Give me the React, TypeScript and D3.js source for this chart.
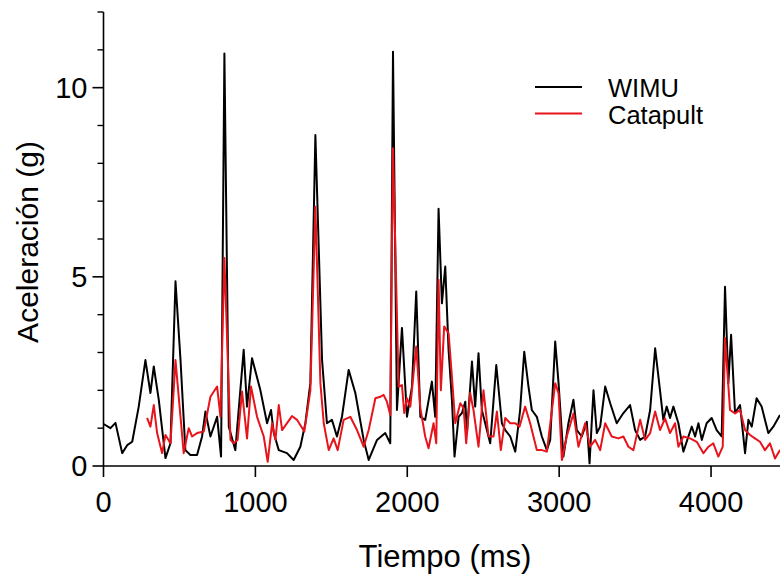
import React from "react";
import * as d3 from "d3";

const wimu: [number, number][] = [[0,1.11],[46,1.0],[79,1.14],[123,0.34],[156,0.55],[189,0.64],[232,1.57],[276,2.8],[309,1.93],[331,2.63],[364,1.75],[408,0.21],[441,0.6],[474,4.88],[507,2.8],[539,0.42],[572,0.29],[616,0.29],[649,0.78],[671,1.44],[704,0.78],[748,1.3],[774,0.25],[796,10.9],[825,1.04],[868,0.42],[923,3.07],[945,1.57],[978,2.85],[1033,2.0],[1077,1.13],[1103,1.48],[1121,0.87],[1154,0.42],[1208,0.34],[1252,0.16],[1296,0.51],[1329,1.13],[1362,2.19],[1395,8.75],[1439,2.8],[1471,1.13],[1504,1.22],[1537,0.78],[1570,1.3],[1614,2.54],[1658,1.93],[1713,0.69],[1746,0.16],[1801,0.69],[1855,0.87],[1888,0.6],[1906,10.95],[1932,1.48],[1965,3.65],[1998,1.3],[2031,2.1],[2059,4.61],[2086,1.3],[2118,1.22],[2162,2.23],[2184,1.3],[2206,6.8],[2228,4.3],[2250,5.27],[2272,3.07],[2294,1.75],[2311,0.25],[2338,1.3],[2360,1.4],[2382,1.7],[2393,0.87],[2426,2.76],[2447,1.57],[2469,2.98],[2491,1.48],[2513,1.13],[2546,0.6],[2586,2.67],[2623,1.13],[2645,0.95],[2678,0.78],[2711,0.38],[2743,1.48],[2770,3.02],[2798,2.1],[2820,1.48],[2853,1.3],[2886,0.78],[2919,0.42],[2941,0.69],[2974,3.29],[2996,2.19],[3028,0.25],[3061,1.13],[3094,1.75],[3116,0.95],[3149,0.78],[3182,1.17],[3200,0.07],[3226,2.0],[3248,0.87],[3270,1.04],[3303,2.1],[3336,1.66],[3379,1.13],[3423,1.4],[3467,1.61],[3500,0.95],[3533,0.69],[3566,0.78],[3599,1.48],[3632,3.11],[3664,2.0],[3686,1.22],[3708,1.57],[3730,1.27],[3752,1.57],[3785,1.13],[3818,0.38],[3851,0.78],[3873,1.04],[3895,0.78],[3917,1.13],[3939,0.69],[3971,1.13],[4004,1.27],[4037,0.95],[4070,0.78],[4092,4.74],[4114,2.19],[4132,3.47],[4158,1.4],[4191,1.61],[4224,0.34],[4246,1.22],[4268,1.04],[4300,1.79],[4333,1.57],[4377,0.87],[4410,1.04],[4454,1.35]];

const catapult: [number, number][] = [[287,1.27],[309,1.04],[331,1.61],[353,0.87],[386,0.34],[408,0.82],[441,0.6],[474,2.8],[507,1.3],[528,0.34],[561,1.0],[583,0.78],[616,0.87],[660,0.91],[704,1.83],[748,2.1],[770,1.3],[796,5.5],[836,0.69],[857,0.6],[883,0.69],[912,1.97],[945,0.73],[971,2.1],[1011,1.3],[1055,0.78],[1081,0.11],[1110,1.13],[1132,0.69],[1154,1.61],[1176,0.95],[1241,1.32],[1274,1.22],[1322,0.91],[1362,2.0],[1395,6.85],[1428,2.19],[1450,1.13],[1483,0.42],[1515,0.73],[1542,0.42],[1581,1.22],[1625,1.3],[1669,0.95],[1713,0.51],[1746,0.95],[1790,1.79],[1822,1.83],[1844,1.88],[1866,1.7],[1888,1.35],[1906,8.4],[1943,2.1],[1965,2.14],[1980,1.4],[1998,1.79],[2020,1.57],[2059,3.16],[2086,1.53],[2118,0.78],[2140,0.47],[2173,1.13],[2191,0.6],[2206,4.92],[2221,2.0],[2243,3.69],[2272,3.51],[2294,2.36],[2316,1.13],[2349,1.66],[2371,1.53],[2388,0.6],[2414,1.93],[2436,1.48],[2469,0.51],[2502,2.0],[2535,0.78],[2568,0.78],[2590,1.44],[2616,0.42],[2645,1.27],[2678,1.13],[2711,1.13],[2739,1.04],[2776,1.57],[2809,1.13],[2853,0.42],[2886,0.42],[2919,0.38],[2974,2.19],[2996,1.92],[3018,0.16],[3050,0.78],[3094,1.39],[3127,0.51],[3171,1.13],[3204,0.51],[3237,0.69],[3270,0.42],[3303,1.13],[3346,0.78],[3390,0.73],[3423,0.78],[3456,0.51],[3489,0.42],[3533,1.22],[3566,0.69],[3599,0.87],[3632,1.44],[3664,0.95],[3697,1.26],[3730,0.87],[3763,1.13],[3785,0.51],[3818,0.78],[3862,0.73],[3906,0.64],[3950,0.34],[3983,0.51],[4015,0.6],[4048,0.25],[4077,0.51],[4092,3.38],[4125,1.48],[4158,1.39],[4191,1.48],[4224,0.95],[4257,0.82],[4289,0.73],[4322,0.64],[4355,0.42],[4388,0.6],[4421,0.2],[4454,0.42]];

const xTicks = [0, 1000, 2000, 3000, 4000];
const yMajorTicks = [0, 5, 10];
const yMinorTicks = [1, 2, 3, 4, 6, 7, 8, 9, 11];
const seriesNames = ["WIMU", "Catapult"];
const seriesColors = ["#000000", "#e8141b"];

const W = 780, H = 578;
const left = 103.5, right = 780, top = 12, bottom = 466;
const FONT = "'Liberation Sans', Arial, Helvetica, sans-serif";

export default function App() {
  const x = d3.scaleLinear().domain([0, 4454]).range([left, right]);
  const y = d3.scaleLinear().domain([0, 12]).range([bottom, top]);
  const line = d3.line<[number, number]>().x(d => x(d[0])).y(d => y(d[1]));

  return (
    <svg width={W} height={H} style={{ position: "absolute", left: 0, top: 0, background: "#fff" }} fontFamily={FONT}>
      <defs>
        <clipPath id="plot"><rect x={left} y={0} width={right - left} height={bottom} /></clipPath>
      </defs>
      <g clipPath="url(#plot)" fill="none" strokeLinejoin="round">
        <path d={line(wimu) || ""} stroke={seriesColors[0]} strokeWidth={2} />
        <path d={line(catapult) || ""} stroke={seriesColors[1]} strokeWidth={2} />
      </g>
      <line x1={left} x2={left} y1={top} y2={bottom} stroke="#000" strokeWidth={1.6} />
      <line x1={left} x2={right} y1={bottom} y2={bottom} stroke="#000" strokeWidth={1.6} />
      {yMajorTicks.map(v => (
        <g key={"ym" + v}>
          <line x1={left - 11} x2={left} y1={y(v)} y2={y(v)} stroke="#000" strokeWidth={1.6} />
          <text x={left - 16} y={y(v)} dy="0.36em" textAnchor="end" fontSize={29}>{v}</text>
        </g>
      ))}
      {yMinorTicks.map(v => (
        <line key={"yn" + v} x1={left - 6} x2={left} y1={y(v)} y2={y(v)} stroke="#000" strokeWidth={1.4} />
      ))}
      <line x1={left - 6} x2={left} y1={top} y2={top} stroke="#000" strokeWidth={1.4} />
      {xTicks.map(v => (
        <g key={"x" + v}>
          <line x1={x(v)} x2={x(v)} y1={bottom} y2={bottom + 11} stroke="#000" strokeWidth={1.6} />
          <text x={x(v)} y={512} textAnchor="middle" fontSize={29}>{v}</text>
        </g>
      ))}
      <text x={445} y={567} textAnchor="middle" fontSize={31}>Tiempo (ms)</text>
      <text transform={`translate(38,${242}) rotate(-90)`} textAnchor="middle" fontSize={30}>Aceleración (g)</text>
      {seriesNames.map((n, i) => (
        <g key={n}>
          <line x1={535} x2={582} y1={87 + i * 26.5} y2={87 + i * 26.5} stroke={seriesColors[i]} strokeWidth={2} />
          <text x={608} y={97 + i * 27} fontSize={25.5}>{n}</text>
        </g>
      ))}
    </svg>
  );
}
